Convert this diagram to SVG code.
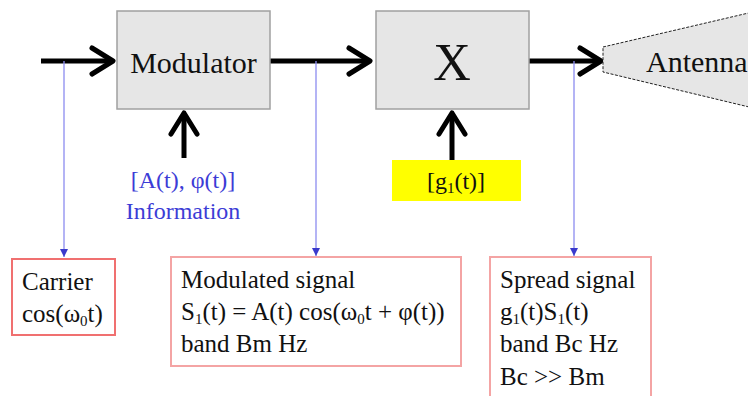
<svg xmlns="http://www.w3.org/2000/svg" width="748" height="396" viewBox="0 0 748 396">
<style>
text{font-family:"Liberation Serif","Times New Roman",serif;fill:#111}
.big{font-size:30px}
.lbl{font-size:25px}
.blue{fill:#3c3cd6;font-size:24px}
.blk{fill:#e6e6e6;stroke:#a0a0a0;stroke-width:1.5}
.note{fill:#fff;stroke:#f4a4a4;stroke-width:2}
.thick{stroke:#000;stroke-width:5;fill:none;marker-end:url(#chev)}
.tap{stroke:#8c8cf0;stroke-width:1.3;fill:none;marker-end:url(#tri)}
.sub{font-size:15px}
</style>
<defs>
<marker id="chev" markerUnits="userSpaceOnUse" viewBox="-26 -17 30 34" refX="0" refY="0" markerWidth="30" markerHeight="34" orient="auto">
<path d="M-21,-13 L0,0 L-21,13" fill="none" stroke="#000" stroke-width="5" stroke-linejoin="round" stroke-linecap="round"/>
</marker>
<marker id="tri" markerUnits="userSpaceOnUse" viewBox="-9 -5 10 10" refX="0" refY="0" markerWidth="10" markerHeight="10" orient="auto">
<path d="M-8,-4 L0,0 L-8,4 Z" fill="#3a3acc"/>
</marker>
</defs>

<g id="connectors">
<line class="thick" x1="41" y1="61" x2="113" y2="61"/>
<line class="thick" x1="270" y1="61" x2="370" y2="61"/>
<line class="thick" x1="529" y1="61" x2="601" y2="61"/>
<line class="thick" x1="184" y1="158" x2="184" y2="113"/>
<line class="thick" x1="452" y1="160" x2="452" y2="113"/>
<line class="tap" x1="64" y1="61" x2="64" y2="257"/>
<line class="tap" x1="316" y1="61" x2="316" y2="256"/>
<line class="tap" x1="574" y1="61" x2="574" y2="256"/>
</g>

<g id="modulator">
<rect class="blk" x="117" y="11" width="153" height="98"/>
<text class="big" x="193.5" y="73" text-anchor="middle">Modulator</text>
</g>

<g id="multiplier">
<rect class="blk" x="376" y="11" width="153" height="98"/>
<text x="452" y="80" text-anchor="middle" style="font-size:52px">X</text>
</g>

<g id="antenna">
<path d="M603,47 L770,8 L770,112 L603,72 Z" fill="#e6e6e6" stroke="#222" stroke-width="1" stroke-dasharray="3,1.5"/>
<text class="big" x="646" y="72">Antenna</text>
</g>

<g id="information">
<text class="blue" x="183" y="188" text-anchor="middle">[A(t), φ(t)]</text>
<text class="blue" x="183" y="219" text-anchor="middle">Information</text>
</g>

<g id="code">
<rect x="392" y="160" width="129" height="41" fill="#ffff00"/>
<text class="lbl" x="456" y="189" text-anchor="middle" style="font-size:24px">[g<tspan class="sub" dy="4">1</tspan><tspan dy="-4">(t)]</tspan></text>
</g>

<g id="carrier">
<rect class="note" x="12" y="259" width="103" height="76" style="stroke:#f07070"/>
<text class="lbl" x="22" y="290">Carrier</text>
<text class="lbl" x="22" y="322">cos(ω<tspan class="sub" dy="4">0</tspan><tspan dy="-4">t)</tspan></text>
</g>

<g id="modulated">
<rect class="note" x="171" y="257" width="290" height="109"/>
<text class="lbl" x="181" y="288">Modulated signal</text>
<text class="lbl" x="181" y="320">S<tspan class="sub" dy="4">1</tspan><tspan dy="-4">(t) = A(t) cos(ω</tspan><tspan class="sub" dy="4">0</tspan><tspan dy="-4">t + φ(t))</tspan></text>
<text class="lbl" x="181" y="352">band Bm Hz</text>
</g>

<g id="spread">
<rect class="note" x="490" y="257" width="161" height="150"/>
<text class="lbl" x="500" y="288">Spread signal</text>
<text class="lbl" x="500" y="320">g<tspan class="sub" dy="4">1</tspan><tspan dy="-4">(t)S</tspan><tspan class="sub" dy="4">1</tspan><tspan dy="-4">(t)</tspan></text>
<text class="lbl" x="500" y="352">band Bc Hz</text>
<text class="lbl" x="500" y="385">Bc &gt;&gt; Bm</text>
</g>
</svg>
